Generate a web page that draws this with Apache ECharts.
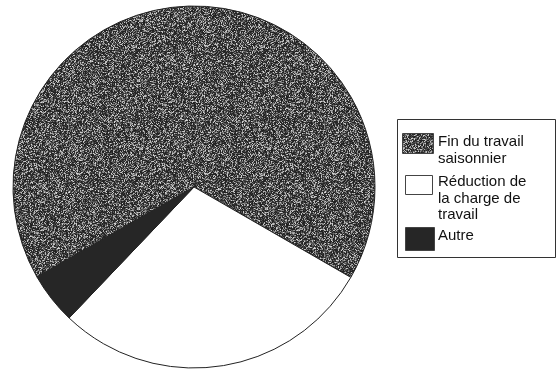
<!DOCTYPE html>
<html>
<head>
<meta charset="utf-8">
<script src="https://cdn.jsdelivr.net/npm/echarts@6/dist/echarts.min.js"></script>
<style>
  html, body { margin: 0; padding: 0; background: #fff; }
  #chart { width: 558px; height: 370px; }
</style>
</head>
<body>
<div id="chart"></div>
<script>
// Reasons for leaving, share of respondents (%)
const categories = ['Fin du travail saisonnier', 'Réduction de la charge de travail', 'Autre'];
const shares = [66.6, 28.8, 4.6];
// Legend text, broken into lines as printed
const legendLines = [['Fin du travail', 'saisonnier'], ['Réduction de', 'la charge de', 'travail'], ['Autre']];

// Speckled dark-grey fill used for the largest slice (deterministic hash noise)
function makeSpeckle(size) {
  const c = document.createElement('canvas');
  c.width = c.height = size;
  const ctx = c.getContext('2d');
  const img = ctx.createImageData(size, size);
  let s = 12345;
  function next() { s = (s * 1103515245 + 12345) & 0x7fffffff; return s / 0x7fffffff; }
  for (let i = 0; i < size * size; i++) {
    const r = next();
    const v = Math.round(32 + 185 * Math.pow(r, 2.3));
    img.data[i * 4] = v; img.data[i * 4 + 1] = v; img.data[i * 4 + 2] = v; img.data[i * 4 + 3] = 255;
  }
  ctx.putImageData(img, 0, 0);
  return c;
}
const speckle = { image: makeSpeckle(128), repeat: 'repeat' };
const fills = [speckle, '#ffffff', '#262626'];

const chart = echarts.init(document.getElementById('chart'), null, { renderer: 'canvas' });

// Legend drawn as a boxed key on the right
const font = '15px "Liberation Sans", Arial, sans-serif';
const swatches = [
  { x: 402, y: 133, w: 31, h: 20 },
  { x: 405, y: 175, w: 27, h: 19 },
  { x: 405, y: 227, w: 29, h: 23 }
];
const textTops = [134, 174, 228];
const legendGraphics = [{
  type: 'rect', shape: { x: 397.5, y: 119.5, width: 158, height: 138 },
  style: { fill: '#fff', stroke: '#333', lineWidth: 1 }
}];
categories.forEach((name, i) => {
  const sw = swatches[i];
  legendGraphics.push({
    type: 'rect', shape: { x: sw.x + 0.5, y: sw.y + 0.5, width: sw.w, height: sw.h },
    style: { fill: fills[i], stroke: '#444', lineWidth: 1 }
  });
  legendGraphics.push({
    type: 'text', x: 438, y: textTops[i],
    style: { text: legendLines[i].join('\n'), font: font, lineHeight: 16.3, fill: '#111', verticalAlign: 'top' }
  });
});

chart.setOption({
  animation: false,
  legend: { show: false, data: categories },
  graphic: legendGraphics,
  series: [{
    type: 'pie',
    center: [194, 187],
    radius: 181,
    startAngle: 209.8,
    clockwise: true,
    label: { show: false },
    labelLine: { show: false },
    emphasis: { disabled: true },
    itemStyle: { borderColor: '#222', borderWidth: 1 },
    data: categories.map((name, i) => ({ name: name, value: shares[i], itemStyle: { color: fills[i] } }))
  }]
});
</script>
</body>
</html>
